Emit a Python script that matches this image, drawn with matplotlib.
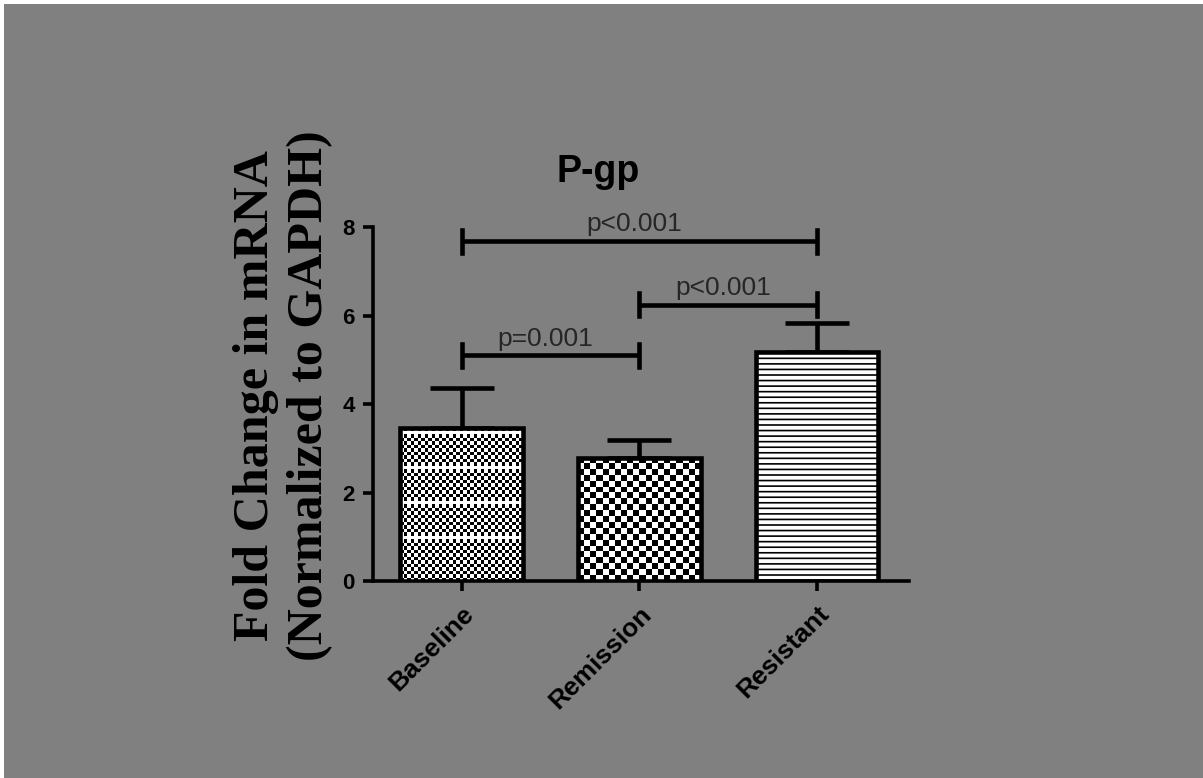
import matplotlib
matplotlib.use("Agg")
import matplotlib.pyplot as plt
from matplotlib.patches import Rectangle
import numpy as np

# data
groups = ["Baseline", "Remission", "Resistant"]
means = [3.46, 2.78, 5.18]
sem_up = [0.91, 0.40, 0.66]
comparisons = [(0, 2, 7.68, "p<0.001"), (1, 2, 6.24, "p<0.001"), (0, 1, 5.10, "p=0.001")]
yticks = [0, 2, 4, 6, 8]

bg = "#808080"
plt.rcParams["hatch.linewidth"] = 1.2
fig = plt.figure(figsize=(12.03, 7.78), dpi=100)
fig.patch.set_facecolor("white")
# grey page with thin white edge on top/left
fig.patches.append(Rectangle((4 / 1203, 0), 1, 1 - 4 / 778, transform=fig.transFigure,
                             facecolor=bg, edgecolor="none", zorder=-10))

ax = fig.add_axes([0.310, 0.2532, 0.446, 0.455])
ax.set_facecolor("none")
ax.set_xlim(-0.5, 2.52)
ax.set_ylim(0, 8)

x = np.arange(len(groups))
width = 0.69
bars = ax.bar(x, means, width=width, color="white", edgecolor="none", zorder=2)

# pixel size of one data unit, for the pattern cell sizes
fig.canvas.draw()
p0 = ax.transData.transform((0, 0))
p1 = ax.transData.transform((1, 1))
px_x, px_y = p1[0] - p0[0], p1[1] - p0[1]

def checker(bar, cell_px, stripe_every=None):
    x0, y0 = bar.get_x(), bar.get_y()
    w, h = bar.get_width(), bar.get_height()
    nx = max(1, int(round(w * px_x / cell_px)))
    ny = max(1, int(round(h * px_y / cell_px)))
    arr = (np.add.outer(np.arange(ny), np.arange(nx)) % 2).astype(float)
    if stripe_every:
        for r in range(stripe_every + 2, ny, stripe_every):
            arr[r, :] = 1.0
    im = ax.imshow(arr, cmap="gray", extent=(x0, x0 + w, y0, y0 + h), origin="lower",
                   interpolation="nearest", aspect="auto", zorder=3)
    im.set_clip_path(bar)

checker(bars[0], 3.5, stripe_every=10)
checker(bars[1], 6)
bars[2].set_hatch("---")
bars[2].set_edgecolor("black")
bars[2].set_linewidth(0)

# outline on top
ax.bar(x, means, width=width, color="none", edgecolor="black", linewidth=3.3, zorder=4)

ax.errorbar(x, means, yerr=[np.zeros(len(means)), sem_up], fmt="none", ecolor="black",
            elinewidth=3.3, capsize=23, capthick=3.3, zorder=1)

for i, j, h, label in comparisons:
    ax.plot([x[i], x[j]], [h, h], color="black", lw=3.3, solid_capstyle="butt", zorder=5)
    for k in (i, j):
        ax.plot([x[k], x[k]], [h - 0.26, h + 0.26], color="black", lw=3.3, zorder=5)
    ax.text((x[i] + x[j]) / 2 - 0.03, h + 0.22, label, ha="center", va="baseline",
            fontsize=19, color="#262626", family="Liberation Sans")

ax.text(0.42, 1.155, "P-gp", transform=ax.transAxes, ha="center", va="center",
        fontsize=27, fontweight="bold", family="Liberation Sans")

for s in ["top", "right"]:
    ax.spines[s].set_visible(False)
for s in ["left", "bottom"]:
    ax.spines[s].set_linewidth(2.6)
ax.set_yticks(yticks)
ax.set_xticks(x)
ax.set_xticklabels(groups, rotation=45, ha="right", va="top", rotation_mode="anchor")
ax.tick_params(axis="both", width=2.6, length=7, direction="out")
ax.tick_params(axis="x", pad=8)
ax.tick_params(axis="y", pad=6)
for lab in ax.get_yticklabels():
    lab.set_fontweight("bold")
    lab.set_fontsize(16)
    lab.set_family("Liberation Sans")
for lab in ax.get_xticklabels():
    lab.set_fontweight("bold")
    lab.set_fontsize(19)
    lab.set_family("Liberation Sans")

ax.set_ylabel("Fold Change in mRNA\n(Normalized to GAPDH)", fontsize=36, fontweight="bold",
              family="Liberation Serif", linespacing=1.2)
ax.yaxis.set_label_coords(-0.075, 0.525)

fig.savefig("out.png", dpi=100, facecolor=fig.get_facecolor())
